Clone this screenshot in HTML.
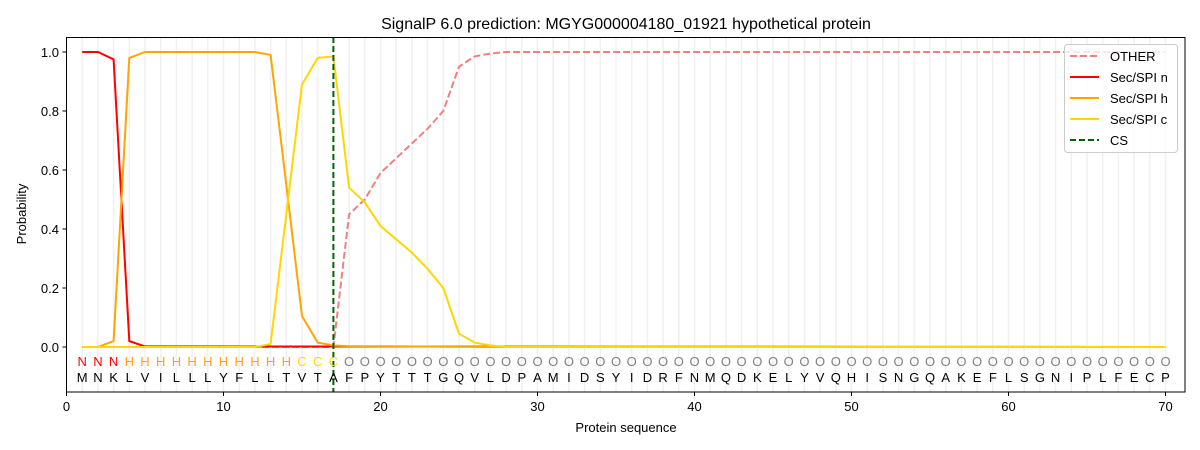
<!DOCTYPE html>
<html><head><meta charset="utf-8"><style>body{margin:0;background:#fff}svg{display:block;font-family:"Liberation Sans","DejaVu Sans",sans-serif}</style></head><body>
<svg width="1200" height="450" viewBox="0 0 1200 450" xmlns="http://www.w3.org/2000/svg">
<rect width="1200" height="450" fill="#fff"/>
<g transform="matrix(15.7,0,0,1,66.5,0)" stroke="#f0f0f0" stroke-width="1.5">
<path vector-effect="non-scaling-stroke" d="M1 37V392M2 37V392M3 37V392M4 37V392M5 37V392M6 37V392M7 37V392M8 37V392M9 37V392M10 37V392M11 37V392M12 37V392M13 37V392M14 37V392M15 37V392M16 37V392M17 37V392M18 37V392M19 37V392M20 37V392M21 37V392M22 37V392M23 37V392M24 37V392M25 37V392M26 37V392M27 37V392M28 37V392M29 37V392M30 37V392M31 37V392M32 37V392M33 37V392M34 37V392M35 37V392M36 37V392M37 37V392M38 37V392M39 37V392M40 37V392M41 37V392M42 37V392M43 37V392M44 37V392M45 37V392M46 37V392M47 37V392M48 37V392M49 37V392M50 37V392M51 37V392M52 37V392M53 37V392M54 37V392M55 37V392M56 37V392M57 37V392M58 37V392M59 37V392M60 37V392M61 37V392M62 37V392M63 37V392M64 37V392M65 37V392M66 37V392M67 37V392M68 37V392M69 37V392M70 37V392"/>
</g>
<polyline fill="none" stroke="#f08080" stroke-width="2" stroke-dasharray="7,3" points="82.2,347 333.4,347 349.1,214.3 364.8,199.5 380.5,172.95 396.2,158.2 411.9,143.45 427.6,128.7 443.3,111 459,66.75 474.7,56.4 490.4,53.5 506.1,52 1165.5,52"/>
<g transform="matrix(15.7,0,0,-295,66.5,347)" fill="none" stroke-width="2">
<polyline vector-effect="non-scaling-stroke" stroke="#ff0000" points="1,1 2,1 3,0.975 4,0.02 5,0.002 70,0"/>
<polyline vector-effect="non-scaling-stroke" stroke="#ffa500" points="1,0 2,0 3,0.02 4,0.98 5,1 12,1 13,0.99 14,0.55 15,0.105 16,0.015 17,0.005 18,0.003 28,0 70,0"/>
<polyline vector-effect="non-scaling-stroke" stroke="#ffd700" points="1,0 12,0 13,0.01 14,0.45 15,0.89 16,0.98 17,0.985 18,0.54 19,0.49 20,0.41 21,0.365 22,0.32 23,0.265 24,0.2 25,0.045 26,0.015 27,0.005 28,0 70,0"/>
</g>
<line x1="333.4" y1="37" x2="333.4" y2="392" stroke="#006400" stroke-width="2" stroke-dasharray="6,3"/>
<g font-size="13" text-anchor="middle">
<text y="366" fill="#ff0000" x="82.2 97.9 113.6">NNN</text>
<text y="366" fill="#ffa500" x="129.3 145.0 160.7 176.4 192.1 207.8 223.5 239.2 254.9 270.6 286.3">HHHHHHHHHHH</text>
<text y="366" fill="#ffd700" x="302.0 317.7 333.4">CCC</text>
<text y="366" fill="#808080" x="349.1 364.8 380.5 396.2 411.9 427.6 443.3 459.0 474.7 490.4 506.1 521.8 537.5 553.2 568.9 584.6 600.3 616.0 631.7 647.4 663.1 678.8 694.5 710.2 725.9 741.6 757.3 773.0 788.7 804.4 820.1 835.8 851.5 867.2 882.9 898.6 914.3 930.0 945.7 961.4 977.1 992.8 1008.5 1024.2 1039.9 1055.6 1071.3 1087.0 1102.7 1118.4 1134.1 1149.8 1165.5">OOOOOOOOOOOOOOOOOOOOOOOOOOOOOOOOOOOOOOOOOOOOOOOOOOOOO</text>
<text y="382" fill="#000" x="82.2 97.9 113.6 129.3 145.0 160.7 176.4 192.1 207.8 223.5 239.2 254.9 270.6 286.3 302.0 317.7 333.4 349.1 364.8 380.5 396.2 411.9 427.6 443.3 459.0 474.7 490.4 506.1 521.8 537.5 553.2 568.9 584.6 600.3 616.0 631.7 647.4 663.1 678.8 694.5 710.2 725.9 741.6 757.3 773.0 788.7 804.4 820.1 835.8 851.5 867.2 882.9 898.6 914.3 930.0 945.7 961.4 977.1 992.8 1008.5 1024.2 1039.9 1055.6 1071.3 1087.0 1102.7 1118.4 1134.1 1149.8 1165.5">MNKLVILLLYFLLTVTAFPYTTTGQVLDPAMIDSYIDRFNMQDKELYVQHISNGQAKEFLSGNIPLFECP</text>
</g>
<rect x="66.5" y="37.5" width="1118.5" height="354.5" fill="none" stroke="#000" stroke-width="1"/>
<g stroke="#000">
<path d="M66.5 392v4M223.5 392v4M380.5 392v4M537.5 392v4M694.5 392v4M851.5 392v4M1008.5 392v4M1165.5 392v4M66.5 347h-4M66.5 288h-4M66.5 229h-4M66.5 170h-4M66.5 111h-4M66.5 52h-4"/>
</g>
<g font-size="13" fill="#000" text-anchor="middle">
<text x="66.5" y="411">0</text><text x="223.5" y="411">10</text><text x="380.5" y="411">20</text><text x="537.5" y="411">30</text><text x="694.5" y="411">40</text><text x="851.5" y="411">50</text><text x="1008.5" y="411">60</text><text x="1165.5" y="411">70</text>
<text x="626" y="432">Protein sequence</text>
<text x="626" y="29" font-size="16">SignalP 6.0 prediction: MGYG000004180_01921 hypothetical protein</text>
<text transform="translate(26,214) rotate(-90)">Probability</text>
</g>
<g font-size="13" fill="#000" text-anchor="end">
<text x="59" y="352">0.0</text><text x="59" y="293">0.2</text><text x="59" y="234">0.4</text><text x="59" y="175">0.6</text><text x="59" y="116">0.8</text><text x="59" y="57">1.0</text>
</g>
<rect x="1064.5" y="44.5" width="113" height="108" rx="3" fill="#fff" fill-opacity="0.8" stroke="#ccc"/>
<g stroke-width="2">
<line x1="1070" y1="56" x2="1099" y2="56" stroke="#f08080" stroke-dasharray="7,3"/>
<line x1="1070" y1="77" x2="1099" y2="77" stroke="#ff0000"/>
<line x1="1070" y1="98" x2="1099" y2="98" stroke="#ffa500"/>
<line x1="1070" y1="119" x2="1099" y2="119" stroke="#ffd700"/>
<line x1="1070" y1="140" x2="1099" y2="140" stroke="#006400" stroke-dasharray="6,3"/>
</g>
<g font-size="13" fill="#000">
<text x="1110" y="61">OTHER</text><text x="1110" y="82">Sec/SPI n</text><text x="1110" y="103">Sec/SPI h</text><text x="1110" y="124">Sec/SPI c</text><text x="1110" y="145">CS</text>
</g>
</svg>
</body></html>
